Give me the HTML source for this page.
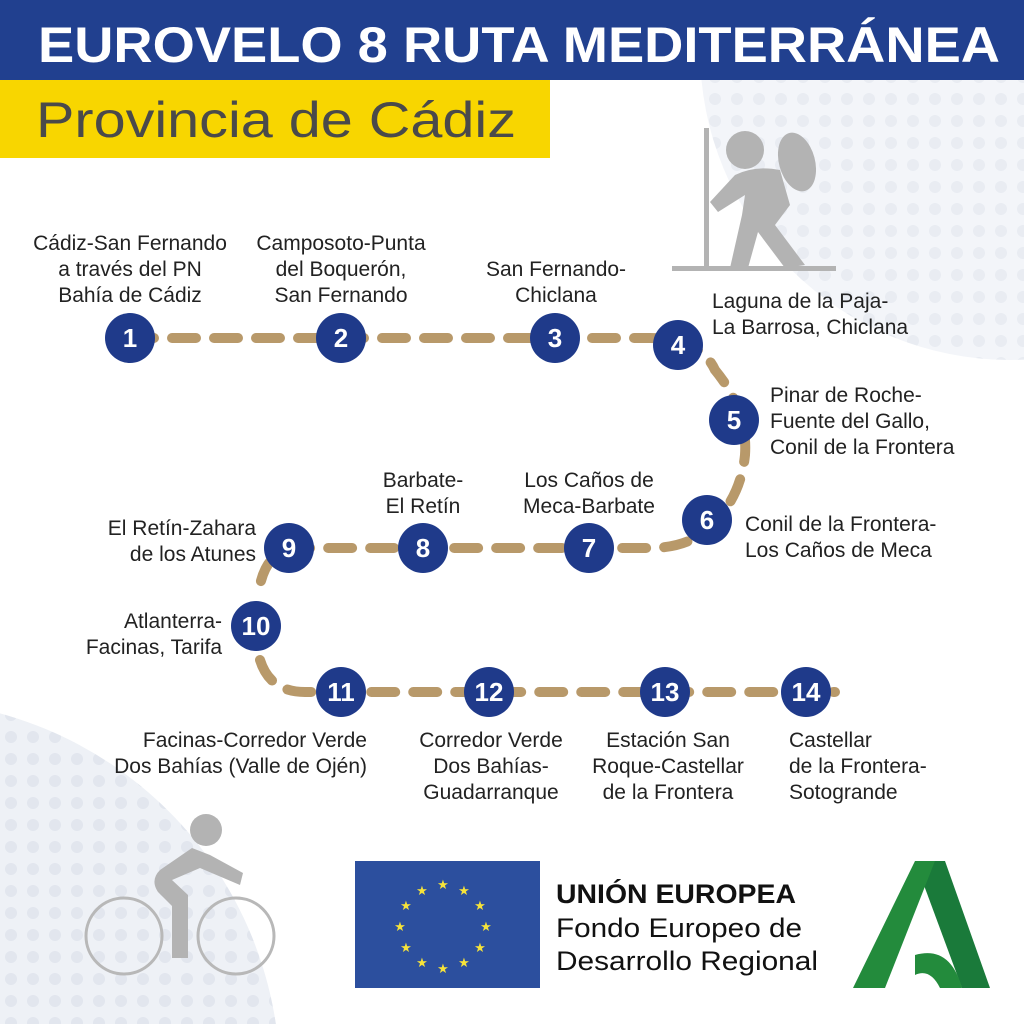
<!DOCTYPE html>
<html><head><meta charset="utf-8"><style>
html,body{margin:0;padding:0;background:#fff;overflow:hidden;width:1024px;height:1024px}
svg{display:block}
text{font-family:"Liberation Sans",sans-serif}
</style></head><body>
<svg width="1024" height="1024" viewBox="0 0 1024 1024">
<defs>
<pattern id="dots" width="22" height="22" patternUnits="userSpaceOnUse"><circle cx="11" cy="11" r="6" fill="#d5dbe6"/></pattern>
</defs>
<rect width="1024" height="1024" fill="#fff"/>
<circle cx="1010" cy="50" r="310" fill="#f3f5f9"/>
<circle cx="1010" cy="50" r="310" fill="url(#dots)" opacity="0.35"/>
<circle cx="-100" cy="1080" r="380" fill="#eef1f6"/>
<circle cx="-100" cy="1080" r="380" fill="url(#dots)" opacity="0.5"/>
<rect x="0" y="0" width="1024" height="80" fill="#21408f"/>
<text x="38" y="62" font-size="50" font-weight="bold" fill="#fff" textLength="962" lengthAdjust="spacingAndGlyphs">EUROVELO 8 RUTA MEDITERRÁNEA</text>
<rect x="0" y="80" width="550" height="78" fill="#f8d600"/>
<text x="36" y="137" font-size="50" fill="#4a4a4a" textLength="480" lengthAdjust="spacingAndGlyphs">Provincia de Cádiz</text>
<!-- hiker -->
<g fill="#b3b3b3">
<circle cx="745" cy="150" r="19"/>
<ellipse cx="797" cy="162" rx="18" ry="30" transform="rotate(-15 797 162)"/>
<path d="M735 175 Q755 165 780 170 L790 205 L775 225 L805 265 L785 268 L758 232 L748 268 L730 268 L742 215 L745 195 L718 212 L710 202 Z"/>
<rect x="704" y="128" width="5" height="142"/>
<rect x="672" y="266" width="164" height="5"/>
</g>
<!-- cyclist -->
<g>
<circle cx="124" cy="936" r="38" fill="none" stroke="#b8b8b8" stroke-width="3"/>
<circle cx="236" cy="936" r="38" fill="none" stroke="#b8b8b8" stroke-width="3"/>
<circle cx="206" cy="830" r="16" fill="#b3b3b3"/>
<path d="M192 848 L160 870 Q150 880 158 892 L172 906 L172 958 L188 958 L188 895 L172 880 L200 868 L240 885 L243 873 L210 855 Z" fill="#b3b3b3"/>
</g>
<!-- path -->
<path d="M130 338 H650 Q700 338 715 370 Q748 410 745 455 Q740 505 700 535 Q680 548 650 548 H300 Q268 548 260 585 M260 660 Q270 692 305 692 H835" fill="none" stroke="#b8996a" stroke-width="10" stroke-dasharray="24 18" stroke-linecap="round"/>
<g fill="#1f3a8a">
<circle cx="130" cy="338" r="25"/><circle cx="341" cy="338" r="25"/><circle cx="555" cy="338" r="25"/>
<circle cx="678" cy="345" r="25"/><circle cx="734" cy="420" r="25"/><circle cx="707" cy="520" r="25"/>
<circle cx="589" cy="548" r="25"/><circle cx="423" cy="548" r="25"/><circle cx="289" cy="548" r="25"/>
<circle cx="256" cy="626" r="25"/><circle cx="341" cy="692" r="25"/><circle cx="489" cy="692" r="25"/>
<circle cx="665" cy="692" r="25"/><circle cx="806" cy="692" r="25"/>
</g>
<g fill="#fff" font-size="26" font-weight="bold" text-anchor="middle">
<text x="130" y="347">1</text><text x="341" y="347">2</text><text x="555" y="347">3</text>
<text x="678" y="354">4</text><text x="734" y="429">5</text><text x="707" y="529">6</text>
<text x="589" y="557">7</text><text x="423" y="557">8</text><text x="289" y="557">9</text>
<text x="256" y="635">10</text><text x="341" y="701">11</text><text x="489" y="701">12</text>
<text x="665" y="701">13</text><text x="806" y="701">14</text>
</g>
<g fill="#222" font-size="21">
<g text-anchor="middle">
<text x="130" y="250">Cádiz-San Fernando</text><text x="130" y="276">a través del PN</text><text x="130" y="302">Bahía de Cádiz</text>
<text x="341" y="250">Camposoto-Punta</text><text x="341" y="276">del Boquerón,</text><text x="341" y="302">San Fernando</text>
<text x="556" y="276">San Fernando-</text><text x="556" y="302">Chiclana</text>
<text x="423" y="487">Barbate-</text><text x="423" y="513">El Retín</text>
<text x="589" y="487">Los Caños de</text><text x="589" y="513">Meca-Barbate</text>
<text x="491" y="747">Corredor Verde</text><text x="491" y="773">Dos Bahías-</text><text x="491" y="799">Guadarranque</text>
<text x="668" y="747">Estación San</text><text x="668" y="773">Roque-Castellar</text><text x="668" y="799">de la Frontera</text>
</g>
<text x="712" y="308">Laguna de la Paja-</text><text x="712" y="334">La Barrosa, Chiclana</text>
<text x="770" y="402">Pinar de Roche-</text><text x="770" y="428">Fuente del Gallo,</text><text x="770" y="454">Conil de la Frontera</text>
<text x="745" y="531">Conil de la Frontera-</text><text x="745" y="557">Los Caños de Meca</text>
<text x="789" y="747">Castellar</text><text x="789" y="773">de la Frontera-</text><text x="789" y="799">Sotogrande</text>
<g text-anchor="end">
<text x="256" y="535">El Retín-Zahara</text><text x="256" y="561">de los Atunes</text>
<text x="222" y="628">Atlanterra-</text><text x="222" y="654">Facinas, Tarifa</text>
<text x="367" y="747">Facinas-Corredor Verde</text><text x="367" y="773">Dos Bahías (Valle de Ojén)</text>
</g>
</g>
<!-- EU flag -->
<rect x="355" y="861" width="185" height="127" fill="#2c4f9e"/>
<g fill="#f6e33a" font-size="13" text-anchor="middle" style="font-family:'DejaVu Sans',sans-serif">
<text x="443" y="889">★</text><text x="464" y="895">★</text><text x="480" y="910">★</text><text x="486" y="931">★</text><text x="480" y="952">★</text><text x="464" y="967">★</text><text x="443" y="973">★</text><text x="422" y="967">★</text><text x="406" y="952">★</text><text x="400" y="931">★</text><text x="406" y="910">★</text><text x="422" y="895">★</text>
</g>
<text x="556" y="903" font-size="27" font-weight="bold" fill="#111" textLength="240" lengthAdjust="spacingAndGlyphs">UNIÓN EUROPEA</text>
<text x="556" y="937" font-size="27" fill="#111" textLength="246" lengthAdjust="spacingAndGlyphs">Fondo Europeo de</text>
<text x="556" y="970" font-size="27" fill="#111" textLength="262" lengthAdjust="spacingAndGlyphs">Desarrollo Regional</text>
<!-- Junta A -->
<path d="M915 861 L945 861 L990 988 L962 988 Z" fill="#1a7a3a"/>
<path d="M915 861 L935 861 L885 988 L853 988 Z" fill="#238b3c"/>
<path d="M915 955 Q950 945 962 988 L940 988 Q930 968 915 975 Z" fill="#238b3c"/>
</svg>
</body></html>
